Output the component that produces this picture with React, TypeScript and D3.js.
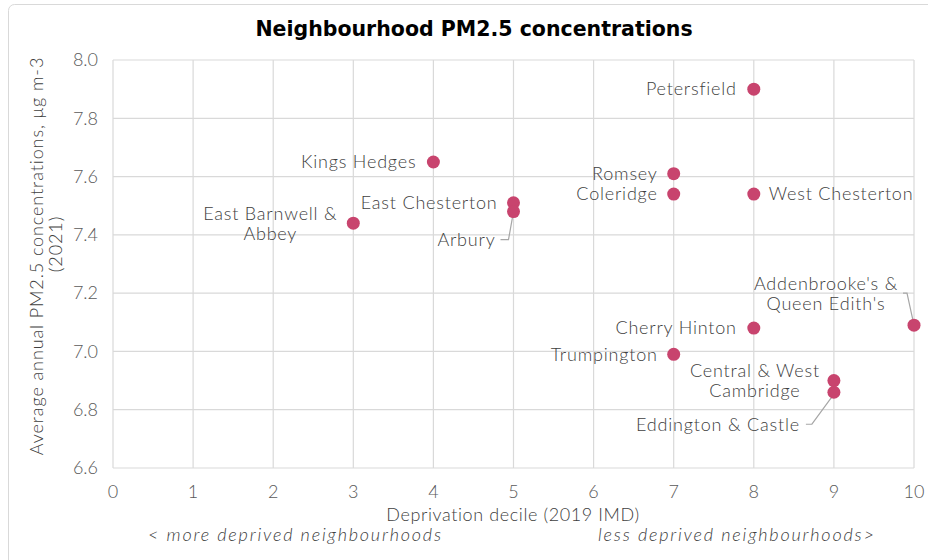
import React, { useEffect } from 'react';
import * as d3 from 'd3';

// neighbourhoods, deprivation decile (2019 IMD) and PM2.5 annual average (2021)
const names = [
  'Petersfield', 'Kings Hedges', 'Romsey', 'Coleridge', 'West Chesterton',
  'East Chesterton', 'Arbury', 'East Barnwell & Abbey', "Addenbrooke's & Queen Edith's",
  'Cherry Hinton', 'Trumpington', 'Central & West Cambridge', 'Eddington & Castle',
];
const deciles = [8, 4, 7, 7, 8, 5, 5, 3, 10, 8, 7, 9, 9];
const pm25 = [7.90, 7.65, 7.61, 7.54, 7.54, 7.51, 7.48, 7.44, 7.09, 7.08, 6.99, 6.90, 6.86];

const xTicks = [0, 1, 2, 3, 4, 5, 6, 7, 8, 9, 10];
const yTicks = [6.6, 6.8, 7.0, 7.2, 7.4, 7.6, 7.8, 8.0];

// label placement (pixel offsets from the marker), lines split for wrapping
type Lab = { lines: string[]; anchor: string; dx: number; dy: number; leader?: number[][] };
const labels: Lab[] = [
  { lines: ['Petersfield'], anchor: 'end', dx: -17, dy: 0 },
  { lines: ['Kings Hedges'], anchor: 'end', dx: -17, dy: 0 },
  { lines: ['Romsey'], anchor: 'end', dx: -16, dy: 0 },
  { lines: ['Coleridge'], anchor: 'end', dx: -16, dy: 0 },
  { lines: ['West Chesterton'], anchor: 'start', dx: 15, dy: 0 },
  { lines: ['East Chesterton'], anchor: 'end', dx: -16, dy: 0 },
  { lines: ['Arbury'], anchor: 'end', dx: -18, dy: 28, leader: [[-13, 28], [-5, 28], [0, 0]] },
  { lines: ['East Barnwell &', 'Abbey'], anchor: 'middle', dx: -83, dy: -10 },
  { lines: ["Addenbrooke's &", "Queen Edith's"], anchor: 'middle', dx: -88, dy: -42, leader: [[-11, -32], [-7, -32], [0, 0]] },
  { lines: ['Cherry Hinton'], anchor: 'end', dx: -17, dy: 0 },
  { lines: ['Trumpington'], anchor: 'end', dx: -16, dy: 0 },
  { lines: ['Central & West', 'Cambridge'], anchor: 'middle', dx: -79, dy: -10 },
  { lines: ['Eddington & Castle'], anchor: 'end', dx: -34, dy: 32, leader: [[-28, 32], [-22, 32], [0, 2]] },
];

const font = "Lato, 'Open Sans', sans-serif";
const txt = '#404040';

function App() {
  useEffect(() => {
    document.body.style.margin = '0';
  }, []);

  const x = d3.scaleLinear().domain([0, 10]).range([113, 914]);
  const y = d3.scaleLinear().domain([6.6, 8.0]).range([468, 60]);
  const line = d3.line();

  return (
    <svg width={928} height={560} style={{ display: 'block', background: '#fff' }} fontFamily={font}>
      <rect x={8.5} y={4.5} width={940} height={580} rx={6} fill="#fff" stroke="#d9d9d9" />
      <text x={474} y={36} textAnchor="middle" fontSize={20.5} fontWeight={700} fill="#000"
        fontFamily="'DejaVu Sans', sans-serif">
        Neighbourhood PM2.5 concentrations
      </text>

      {/* grid */}
      <g stroke="#d9d9d9" strokeWidth={1.2}>
        {xTicks.map(t => (
          <line key={'gx' + t} x1={x(t)} x2={x(t)} y1={y(8.0)} y2={y(6.6)} />
        ))}
        {yTicks.map(t => (
          <line key={'gy' + t} x1={x(0)} x2={x(10)} y1={y(t)} y2={y(t)} />
        ))}
      </g>

      {/* tick labels */}
      <g fill="#595959" fontSize={18} fontWeight={300}>
        {xTicks.map(t => (
          <text key={'tx' + t} x={x(t)} y={498} textAnchor="middle">{t}</text>
        ))}
        {yTicks.map(t => (
          <text key={'ty' + t} x={98} y={y(t)} dy="0.35em" textAnchor="end">{d3.format('.1f')(t)}</text>
        ))}
      </g>

      {/* axis titles */}
      <g fill={txt} fontSize={18} fontWeight={300} letterSpacing={0.6}>
        <text x={513} y={521} textAnchor="middle">Deprivation decile (2019 IMD)</text>
        <text x={148} y={541} fontStyle="italic" letterSpacing={1.8}>{'< more deprived neighbourhoods'}</text>
        <text x={598} y={541} fontStyle="italic" letterSpacing={1.8}>{'less deprived neighbourhoods>'}</text>
        <g transform="translate(43,0) rotate(-90)" letterSpacing={0.9}>
          <text x={-256} y={0} textAnchor="middle">Average annual PM2.5 concentrations, μg m-3</text>
          <text x={-244} y={19} textAnchor="middle">(2021)</text>
        </g>
      </g>

      {/* leaders */}
      <g fill="none" stroke="#a6a6a6" strokeWidth={1.2}>
        {labels.map((l, i) =>
          l.leader ? (
            <path
              key={'ld' + i}
              d={line(l.leader.map(p => [x(deciles[i]) + p[0], y(pm25[i]) + p[1]]) as [number, number][]) || ''}
            />
          ) : null
        )}
      </g>

      {/* markers */}
      <g fill="#c8446e">
        {names.map((n, i) => (
          <circle key={n} cx={x(deciles[i])} cy={y(pm25[i])} r={6.5} />
        ))}
      </g>

      {/* labels */}
      <g fill={txt} fontSize={18} fontWeight={300} letterSpacing={0.8}>
        {labels.map((l, i) => (
          <text
            key={'lb' + i}
            x={x(deciles[i]) + l.dx}
            y={y(pm25[i]) + l.dy}
            textAnchor={l.anchor}
          >
            {l.lines.map((s, j) => (
              <tspan key={j} x={x(deciles[i]) + l.dx} dy={j === 0 ? '0.35em' : 20}>{s}</tspan>
            ))}
          </text>
        ))}
      </g>
    </svg>
  );
}

export default App;
